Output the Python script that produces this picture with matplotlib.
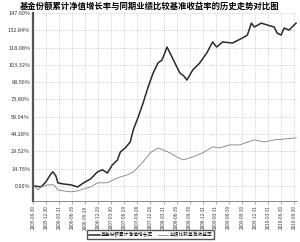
import pandas as pd
import matplotlib
matplotlib.use("Agg")
import matplotlib.pyplot as plt

plt.rcParams['font.family'] = ['Noto Sans CJK SC', 'DejaVu Sans']

# 基金份额累计净值增长率 (%)
fund_dates = ["2005-10-07", "2005-11-25", "2005-12-29", "2006-02-02", "2006-02-16",
              "2006-03-09", "2006-03-23", "2006-04-26", "2006-06-21", "2006-08-08",
              "2006-09-19", "2006-11-07", "2006-12-25", "2007-01-29", "2007-03-04",
              "2007-04-08", "2007-05-13", "2007-06-03", "2007-07-07", "2007-08-11",
              "2007-09-01", "2007-10-06", "2007-11-09", "2007-12-14", "2008-01-18",
              "2008-02-21", "2008-03-20", "2008-04-10", "2008-04-24", "2008-05-15",
              "2008-06-18", "2008-07-23", "2008-08-20", "2008-09-10", "2008-10-21",
              "2008-12-09", "2009-01-27", "2009-03-09", "2009-04-06", "2009-05-18",
              "2009-07-26", "2009-10-03", "2009-11-07", "2009-12-05", "2009-12-26",
              "2010-02-12", "2010-03-26", "2010-05-13", "2010-06-03", "2010-07-01",
              "2010-07-22", "2010-08-25", "2010-10-13"]
fund_vals = [0.0, -0.9, 3.4, 10.2, 12.0,
             8.5, 2.6, 1.7, 0.9, -0.9,
             2.6, 6.0, 12.0, 13.7, 11.0,
             18.0, 22.0, 29.0, 32.4, 37.5,
             47.8, 58.9, 70.8, 84.5, 96.4,
             105.0, 107.5, 114.0, 118.6, 113.5,
             105.0, 96.4, 93.8, 90.4, 99.0,
             105.0, 113.5, 122.9, 118.6, 122.9,
             122.0, 126.3, 128.8, 139.0, 135.7,
             139.0, 137.4, 135.7, 130.5, 128.8,
             134.8, 133.1, 139.0]

# 业绩比较基准收益率 (%)
bench_dates = ["2005-10-07", "2005-11-04", "2005-11-25", "2006-01-12", "2006-02-23",
               "2006-03-23", "2006-05-03", "2006-06-21", "2006-08-08", "2006-09-19",
               "2006-11-07", "2006-12-25", "2007-03-04", "2007-05-13", "2007-07-21",
               "2007-09-01", "2007-10-20", "2007-12-07", "2007-12-28", "2008-02-21",
               "2008-03-27", "2008-05-15", "2008-07-02", "2008-08-13", "2008-10-21",
               "2008-12-30", "2009-03-09", "2009-04-27", "2009-07-05", "2009-09-12",
               "2009-12-26", "2010-03-05", "2010-05-13", "2010-07-22", "2010-10-13"]
bench_vals = [0.0, -3.4, -0.9, 0.9, 0.9,
              -3.4, -4.3, -5.1, -4.3, -2.6,
              -0.9, 2.6, 2.6, 6.8, 9.4,
              11.9, 17.9, 24.7, 28.2, 32.4,
              30.7, 28.2, 24.7, 22.2, 24.7,
              28.2, 33.3, 32.4, 35.0, 35.0,
              39.3, 37.5, 39.3, 40.0, 41.0]

x_ticks = ["2005-09-30", "2005-12-30", "2006-03-31", "2006-06-30", "2006-09-29",
           "2006-12-29", "2007-03-30", "2007-06-29", "2007-09-28", "2007-12-28",
           "2008-03-31", "2008-06-30", "2008-09-30", "2008-12-31", "2009-03-31",
           "2009-06-30", "2009-09-30", "2009-12-31", "2010-03-31", "2010-06-30",
           "2010-09-30"]
y_ticks = [0.0, 14.76, 29.52, 44.28, 59.04, 73.80, 88.56, 103.32, 118.08, 132.84, 147.60]

fig = plt.figure(figsize=(3.0, 2.42), dpi=100)
ax = fig.add_axes([0.11, 0.169, 0.88, 0.777])

ax.plot(pd.to_datetime(fund_dates), fund_vals, color='#2a2a2a', lw=1.1,
        label='基金份额累计净值增长率')
ax.plot(pd.to_datetime(bench_dates), bench_vals, color='#808080', lw=0.6,
        label='业绩比较基准收益率')

xt = pd.to_datetime(x_ticks)
ax.set_xticks(xt)
ax.set_xticklabels(x_ticks, rotation=90, fontsize=3.3, color='#333333')
ax.set_xlim(xt[0], pd.Timestamp("2010-10-20"))
ax.set_yticks(y_ticks)
ax.set_yticklabels(['%.2f%%' % v for v in y_ticks], fontsize=4, color='#333333')
ax.set_ylim(-13, 147.6)

ax.grid(True, color='#b0b0b0', linestyle=':', linewidth=0.5)
ax.tick_params(axis='y', length=0, pad=2)
ax.tick_params(axis='x', length=2, width=0.4, pad=1, color='#666666')
for side in ['top', 'right']:
    ax.spines[side].set_visible(False)
ax.spines['left'].set_linewidth(1.6)
ax.spines['left'].set_color('#555555')
ax.spines['bottom'].set_linewidth(0.6)
ax.spines['bottom'].set_color('#777777')

fig.text(0.5, 0.975, '基金份额累计净值增长率与同期业绩比较基准收益率的历史走势对比图',
         ha='center', va='center', fontsize=6.0, fontweight='bold')

fig.legend(loc='center', bbox_to_anchor=(0.503, 0.03), ncol=2, fontsize=3.4,
           frameon=True, fancybox=False, edgecolor='#555555', framealpha=1,
           handlelength=2.2, handletextpad=0.3, columnspacing=1.0,
           borderpad=0.4)

fig.savefig('out.png', dpi=100)
